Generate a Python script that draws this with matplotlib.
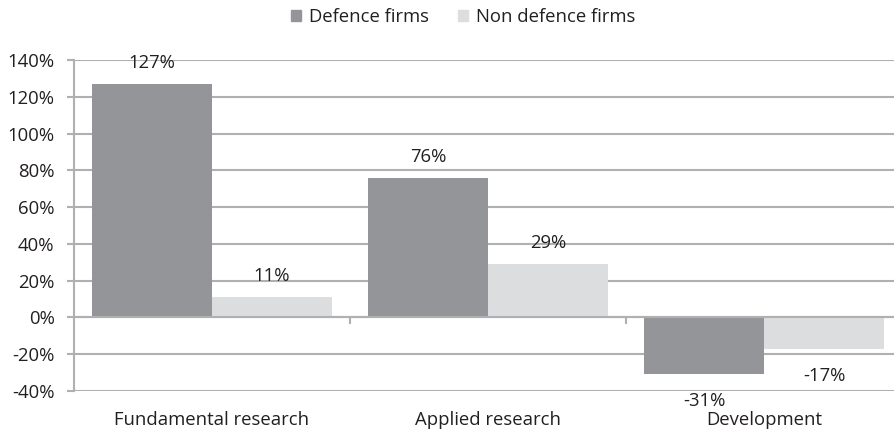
import numpy as np
import matplotlib.pyplot as plt
from matplotlib.patches import Patch

plt.rcParams['font.family'] = ['Open Sans', 'DejaVu Sans']

categories = ['Fundamental research', 'Applied research', 'Development']
defence = [127, 76, -31]
non_defence = [11, 29, -17]
yticks = [-40, -20, 0, 20, 40, 60, 80, 100, 120, 140]

c_def = '#939598'
c_non = '#dcdddf'
c_grid = '#aeb0b2'
c_text = '#231f20'
fs = 13.3

fig = plt.figure(figsize=(8.95, 4.32), dpi=100)
ax = fig.add_axes([74 / 895, 1 - 391 / 432, 828 / 895, 331 / 432])

x = np.arange(len(categories))
w = 0.435
b1 = ax.bar(x - w / 2, defence, w, color=c_def, zorder=3)
b2 = ax.bar(x + w / 2, non_defence, w, color=c_non, zorder=3)

for bars, vals in [(b1, defence), (b2, non_defence)]:
    for rect, v in zip(bars, vals):
        off = 21 if v >= 0 else -27
        ax.annotate(f'{v}%', (rect.get_x() + rect.get_width() / 2, v),
                    xytext=(0, off), textcoords='offset pixels',
                    ha='center', va='center', fontsize=fs, color=c_text)

ax.set_xlim(-0.5, 2.5)
ax.set_ylim(-40, 140)
ax.set_yticks(yticks)
ax.set_yticklabels([f'{t}%' for t in yticks], fontsize=fs, color=c_text)
ax.yaxis.grid(True, color=c_grid, linewidth=1.5, zorder=0)
ax.tick_params(axis='y', length=5, width=1.5, color=c_grid, pad=9)

# category axis sits on the zero line
ax.axhline(0, color=c_grid, linewidth=1.5, zorder=4)
ax.set_xticks([])
for b in [0.5, 1.5]:
    ax.plot([b, b], [0, -3.2], color=c_grid, linewidth=1.5, clip_on=False, zorder=4)
for xi, name in zip(x, categories):
    ax.text(xi, -56, name, ha='center', va='center', fontsize=fs, color=c_text)

for s in ['top', 'right', 'bottom']:
    ax.spines[s].set_visible(False)
ax.spines['left'].set_color(c_grid)
ax.spines['left'].set_linewidth(1.5)

handles = [Patch(color=c_def, label='Defence firms'),
           Patch(color=c_non, label='Non defence firms')]
fig.legend(handles=handles, loc='center', bbox_to_anchor=(463 / 895, 1 - 17 / 432),
           ncol=2, frameon=False, fontsize=fs, handlelength=0.55, handleheight=0.55,
           handletextpad=0.4, columnspacing=1.6, labelcolor=c_text)

fig.savefig('out.png', dpi=100)
